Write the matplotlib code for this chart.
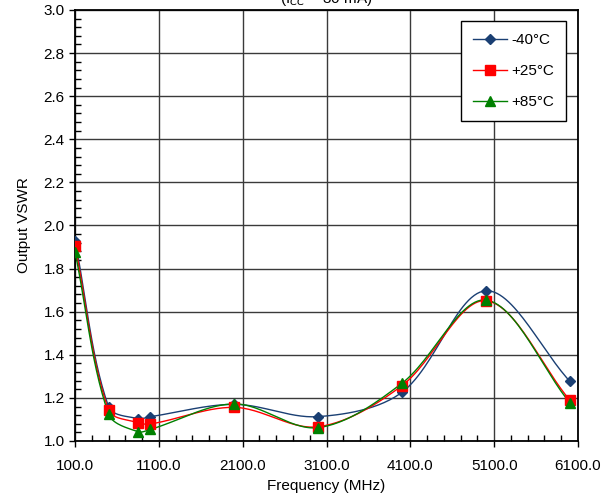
import numpy as np
import matplotlib.pyplot as plt
from matplotlib.ticker import MultipleLocator, FormatStrFormatter

plt.rcParams['font.family'] = ['Liberation Sans', 'DejaVu Sans']

# data
freq = [100, 500, 850, 1000, 2000, 3000, 4000, 5000, 6000]
vswr_m40 = [1.929, 1.159, 1.104, 1.113, 1.170, 1.113, 1.226, 1.697, 1.278]
vswr_p25 = [1.906, 1.144, 1.085, 1.079, 1.156, 1.066, 1.257, 1.651, 1.190]
vswr_p85 = [1.878, 1.125, 1.043, 1.054, 1.172, 1.062, 1.268, 1.654, 1.178]
labels = ['-40°C', '+25°C', '+85°C']
colors = ['#1a3f73', '#ff0000', '#008000']
markers = ['D', 's', '^']
msizes = [5, 7, 7]

xlim = (100, 6100)
ylim = (1.0, 3.0)


def smooth(xs, ys, sx, sy, n=30):
    # bezier through the points with chord-length tangents, in screen-ish units
    p = np.column_stack([np.asarray(xs, float) * sx, np.asarray(ys, float) * sy])
    pts = np.vstack([p[0], p, p[-1]])
    out = []
    t = np.linspace(0, 1, n)[:, None]
    for i in range(1, len(pts) - 2):
        p0, p1, p2, p3 = pts[i - 1], pts[i], pts[i + 1], pts[i + 2]
        d01 = np.linalg.norm(p1 - p0)
        d12 = np.linalg.norm(p2 - p1)
        d23 = np.linalg.norm(p3 - p2)
        c1 = p1 + (p2 - p0) * d12 / (d01 + d12) / 3
        c2 = p2 - (p3 - p1) * d12 / (d12 + d23) / 3
        seg = ((1 - t) ** 3) * p1 + 3 * ((1 - t) ** 2) * t * c1 + 3 * (1 - t) * t ** 2 * c2 + t ** 3 * p2
        out.append(seg if i == 1 else seg[1:])
    out = np.vstack(out)
    return out[:, 0] / sx, out[:, 1] / sy


fig = plt.figure(figsize=(6.08, 4.97), dpi=100)
ax = fig.add_axes([0.1234, 0.1127, 0.8273, 0.8672])

sx = 503 / (xlim[1] - xlim[0])
sy = 431 / (ylim[1] - ylim[0])
for ys, lab, c, m, ms in zip([vswr_m40, vswr_p25, vswr_p85], labels, colors, markers, msizes):
    cx, cy = smooth(freq, ys, sx, sy)
    ax.plot(cx, cy, color=c, lw=1.0, zorder=3)
    ax.plot(freq, ys, linestyle='none', marker=m, color=c, ms=ms, zorder=4)
    ax.plot([], [], color=c, lw=1.0, marker=m, ms=ms, label=lab)

ax.set_xlim(*xlim)
ax.set_ylim(*ylim)
ax.xaxis.set_major_locator(MultipleLocator(1000, offset=100))
ax.xaxis.set_minor_locator(MultipleLocator(200, offset=100))
ax.yaxis.set_major_locator(MultipleLocator(0.2))
ax.yaxis.set_minor_locator(MultipleLocator(0.04))
ax.xaxis.set_major_formatter(FormatStrFormatter('%.1f'))
ax.yaxis.set_major_formatter(FormatStrFormatter('%.1f'))
ax.tick_params(which='major', direction='out', length=4, width=1, labelsize=11, color='black')
ax.tick_params(which='minor', direction='in', length=4, width=1, color='black')
ax.tick_params(axis='x', pad=9)
ax.grid(which='major', color='#3a3a3a', lw=1.0)
for s in ax.spines.values():
    s.set_linewidth(1.3)

ax.set_xlabel('Frequency (MHz)', fontsize=11, labelpad=4)
ax.set_ylabel('Output VSWR', fontsize=11, labelpad=9)

leg = ax.legend(loc='upper right', bbox_to_anchor=(0.992, 0.992), fontsize=11, frameon=True,
                fancybox=False, framealpha=1, edgecolor='black', borderpad=0.8,
                labelspacing=1.1, handlelength=2.2, handletextpad=0.3)
leg.get_frame().set_linewidth(1.0)

fig.text(0.536, 1.003, '(I$_{CC}$ = 30 mA)', ha='center', va='center', fontsize=11)

fig.savefig('out.png', dpi=100)
